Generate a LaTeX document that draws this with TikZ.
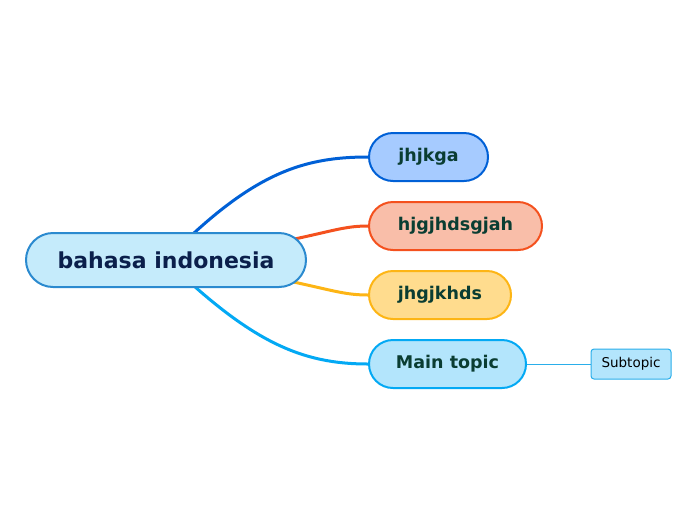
\documentclass[tikz,border=0pt]{standalone}
\usepackage{fontspec}
\setmainfont{DejaVu Sans}
\usetikzlibrary{backgrounds}
\definecolor{rootfill}{HTML}{C5EBFB}
\definecolor{rootdraw}{HTML}{2B8ACF}
\definecolor{roottext}{HTML}{0B1F4B}
\definecolor{childtext}{HTML}{0A3D32}
\definecolor{bluefill}{HTML}{A6CBFF}
\definecolor{bluedraw}{HTML}{0060D6}
\definecolor{redfill}{HTML}{F9BEA9}
\definecolor{reddraw}{HTML}{F4511E}
\definecolor{yelfill}{HTML}{FFDC8E}
\definecolor{yeldraw}{HTML}{FDB515}
\definecolor{cyanfill}{HTML}{B3E5FC}
\definecolor{cyandraw}{HTML}{03A9F4}
\definecolor{subdraw}{HTML}{2AAEEA}
\tikzset{
  rootbox/.style={draw=rootdraw, fill=rootfill, line width=2pt, rounded corners=27pt,
    minimum width=280pt, minimum height=54pt, inner sep=0pt, text=roottext,
    font=\fontsize{22}{26}\selectfont\bfseries},
  childbox/.style={line width=2pt, rounded corners=24pt, minimum height=48pt,
    inner sep=0pt, text=childtext, font=\fontsize{17.5}{21}\selectfont\bfseries},
  subbox/.style={draw=subdraw, fill=cyanfill, line width=1pt, rounded corners=3pt,
    minimum width=80pt, minimum height=30pt, inner sep=0pt, text=black,
    font=\fontsize{13.5}{16}\selectfont},
  conn/.style={line width=3pt},
}
\begin{document}
\begin{tikzpicture}[x=1pt,y=-1pt]
\useasboundingbox (0,0) rectangle (696,520);
\node[rootbox] (root) at (166,260) {bahasa indonesia};
\node[childbox, draw=bluedraw, fill=bluefill, minimum width=119pt] (c1) at (428.5,157) {\raisebox{-1pt}{jhjkga}};
\node[childbox, draw=reddraw, fill=redfill, minimum width=173pt] (c2) at (455.5,226) {\raisebox{-1pt}{hjgjhdsgjah}};
\node[childbox, draw=yeldraw, fill=yelfill, minimum width=142pt] (c3) at (440,295) {\raisebox{-1pt}{jhgjkhds}};
\node[childbox, draw=cyandraw, fill=cyanfill, minimum width=157pt] (c4) at (447.5,364) {\raisebox{-1pt}{Main topic}};
\node[subbox] (s1) at (631,364) {\raisebox{-1pt}{Subtopic}};
\begin{scope}[on background layer]
\draw[conn, bluedraw] (root.center) .. controls (250,175) and (300,157) .. (c1.west);
\draw[conn, reddraw] (root.center) .. controls (320,240) and (330,226) .. (c2.west);
\draw[conn, yeldraw] (root.center) .. controls (320,282) and (330,295) .. (c3.west);
\draw[conn, cyandraw] (root.center) .. controls (250,341) and (300,364) .. (c4.west);
\draw[line width=1pt, subdraw] (c4.east) -- (s1.west);
\end{scope}
\end{tikzpicture}
\end{document}
